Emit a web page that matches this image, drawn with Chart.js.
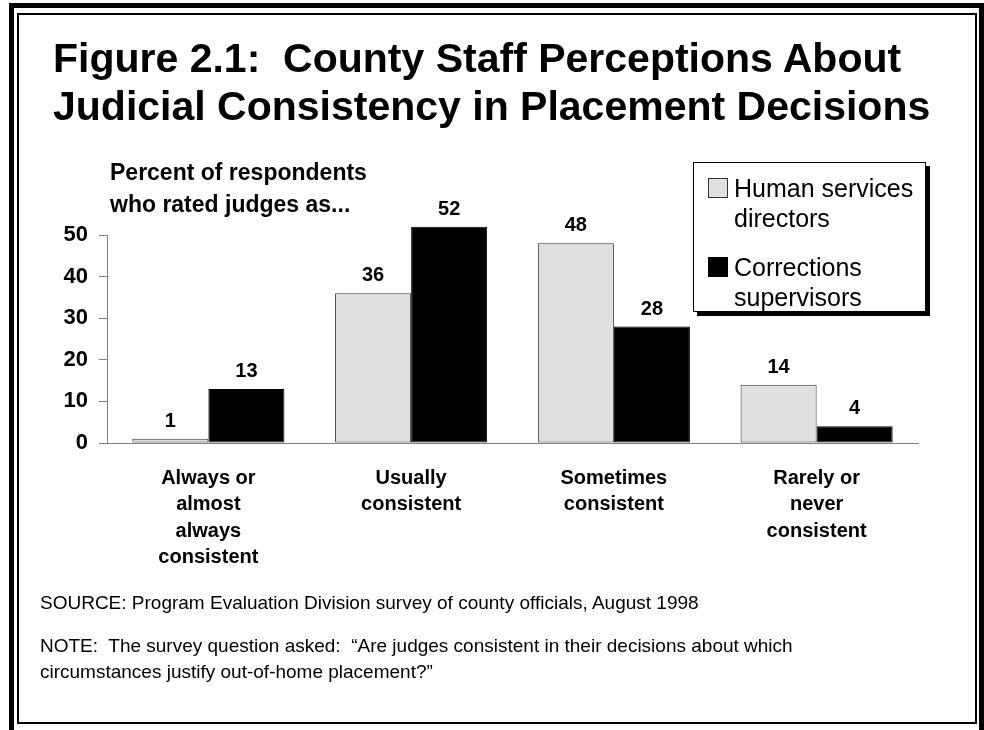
<!DOCTYPE html>
<html>
<head>
<meta charset="utf-8">
<script src="https://cdn.jsdelivr.net/npm/chart.js@4.4.1/dist/chart.umd.min.js"></script>
<style>
    body { margin: 0; background: #fff; }
    #page { position: relative; width: 984px; height: 730px; overflow: hidden; font-family: "Liberation Sans", Arial, sans-serif; color: #000; }
    #chart { position: absolute; left: 0; top: 0; }
    .frame-outer { position: absolute; left: 9px; top: 3px; width: 965px; height: 800px; border: 5px solid #000; }
    .frame-inner { position: absolute; left: 17px; top: 13px; width: 956px; height: 707px; border: 2px solid #000; }
    .title { position: absolute; left: 53px; top: 34px; font-size: 41px; font-weight: bold; line-height: 48px; white-space: pre; }
    .ytitle { position: absolute; left: 110px; top: 156px; font-size: 23px; font-weight: bold; line-height: 32px; }
    .notes { position: absolute; left: 40px; font-size: 19px; line-height: 26px; white-space: pre; }
    .legend { position: absolute; left: 693px; top: 162px; width: 231px; height: 148px; border: 1px solid #000; background: #fff; box-shadow: 4px 4px 0 #000; }
    .legend-item { position: absolute; left: 0; }
    .legend-item .swatch { position: absolute; left: 14px; top: 5px; width: 18px; height: 18px; border: 1px solid #333; }
    .legend-item .text { position: absolute; left: 40px; top: 0; font-size: 25px; line-height: 30px; white-space: pre; }
</style>
</head>
<body>
<div id="page">
    <canvas id="chart" width="984" height="730"></canvas>
    <div class="frame-outer"></div>
    <div class="frame-inner"></div>
    <div class="title">Figure 2.1:  County Staff Perceptions About
Judicial Consistency in Placement Decisions</div>
    <div class="ytitle">Percent of respondents<br>who rated judges as...</div>
    <div class="legend" id="legend"></div>
    <div class="notes" style="top: 590px;">SOURCE: Program Evaluation Division survey of county officials, August 1998</div>
    <div class="notes" style="top: 633px;">NOTE:  The survey question asked:  “Are judges consistent in their decisions about which
circumstances justify out-of-home placement?”</div>
</div>
<script>
// Chart data
const categories = [
    ['Always or', 'almost', 'always', 'consistent'],
    ['Usually', 'consistent'],
    ['Sometimes', 'consistent'],
    ['Rarely or', 'never', 'consistent']
];
const seriesNames = [
    ['Human services', 'directors'],
    ['Corrections', 'supervisors']
];
const humanServices = [1, 36, 48, 14];
const corrections = [13, 52, 28, 4];
const yTicks = [0, 10, 20, 30, 40, 50];

const seriesColors = ['#e0e0e0', '#000000'];
const seriesBorders = ['#333333', '#000000'];

// Value labels above each bar
const barLabels = {
    id: 'barLabels',
    afterDatasetsDraw(chart) {
        const ctx = chart.ctx;
        ctx.save();
        ctx.font = 'bold 20px "Liberation Sans", Arial, sans-serif';
        ctx.fillStyle = '#000';
        ctx.textAlign = 'center';
        ctx.textBaseline = 'alphabetic';
        chart.data.datasets.forEach((ds, i) => {
            chart.getDatasetMeta(i).data.forEach((bar, j) => {
                ctx.fillText(String(ds.data[j]), bar.x, bar.y - 12);
            });
        });
        ctx.restore();
    }
};

const chart = new Chart(document.getElementById('chart').getContext('2d'), {
    type: 'bar',
    data: {
        labels: categories,
        datasets: [{
            label: seriesNames[0].join(' '),
            data: humanServices,
            backgroundColor: seriesColors[0],
            borderColor: seriesBorders[0],
            borderWidth: 1,
            borderSkipped: false,
            clip: false
        }, {
            label: seriesNames[1].join(' '),
            data: corrections,
            backgroundColor: seriesColors[1],
            borderColor: seriesBorders[1],
            borderWidth: 1,
            borderSkipped: false,
            clip: false
        }]
    },
    options: {
        responsive: false,
        animation: false,
        devicePixelRatio: 1,
        layout: {
            padding: { left: 0, top: 235, right: 66, bottom: 0 }
        },
        datasets: {
            bar: {
                categoryPercentage: 0.75,
                barPercentage: 1.0
            }
        },
        plugins: {
            legend: { display: false },
            tooltip: { enabled: false }
        },
        scales: {
            x: {
                grid: { display: false, drawTicks: false },
                border: { display: true, color: '#808080', width: 1 },
                ticks: {
                    color: '#000',
                    padding: 22,
                    maxRotation: 0,
                    autoSkip: false,
                    font: { family: '"Liberation Sans", Arial, sans-serif', size: 20, weight: 'bold', lineHeight: 1.325 }
                },
                afterFit(scale) { scale.height = 287; }
            },
            y: {
                min: 0,
                max: 50,
                afterBuildTicks(scale) { scale.ticks = yTicks.map(v => ({ value: v })); },
                grid: { drawOnChartArea: false, drawTicks: true, tickLength: 8, color: '#808080' },
                border: { display: true, color: '#808080', width: 1 },
                ticks: {
                    color: '#000',
                    padding: 11,
                    font: { family: '"Liberation Sans", Arial, sans-serif', size: 22, weight: 'bold' }
                },
                afterFit(scale) { scale.width = 107; }
            }
        }
    },
    plugins: [barLabels]
});

// Legend built from the series names
const legend = document.getElementById('legend');
const itemTops = [10, 89];
seriesNames.forEach((lines, i) => {
    const item = document.createElement('div');
    item.className = 'legend-item';
    item.style.top = itemTops[i] + 'px';
    const sw = document.createElement('div');
    sw.className = 'swatch';
    sw.style.background = seriesColors[i];
    sw.style.borderColor = seriesBorders[i];
    const tx = document.createElement('div');
    tx.className = 'text';
    tx.textContent = lines.join('\n');
    item.appendChild(sw);
    item.appendChild(tx);
    legend.appendChild(item);
});
</script>
</body>
</html>
